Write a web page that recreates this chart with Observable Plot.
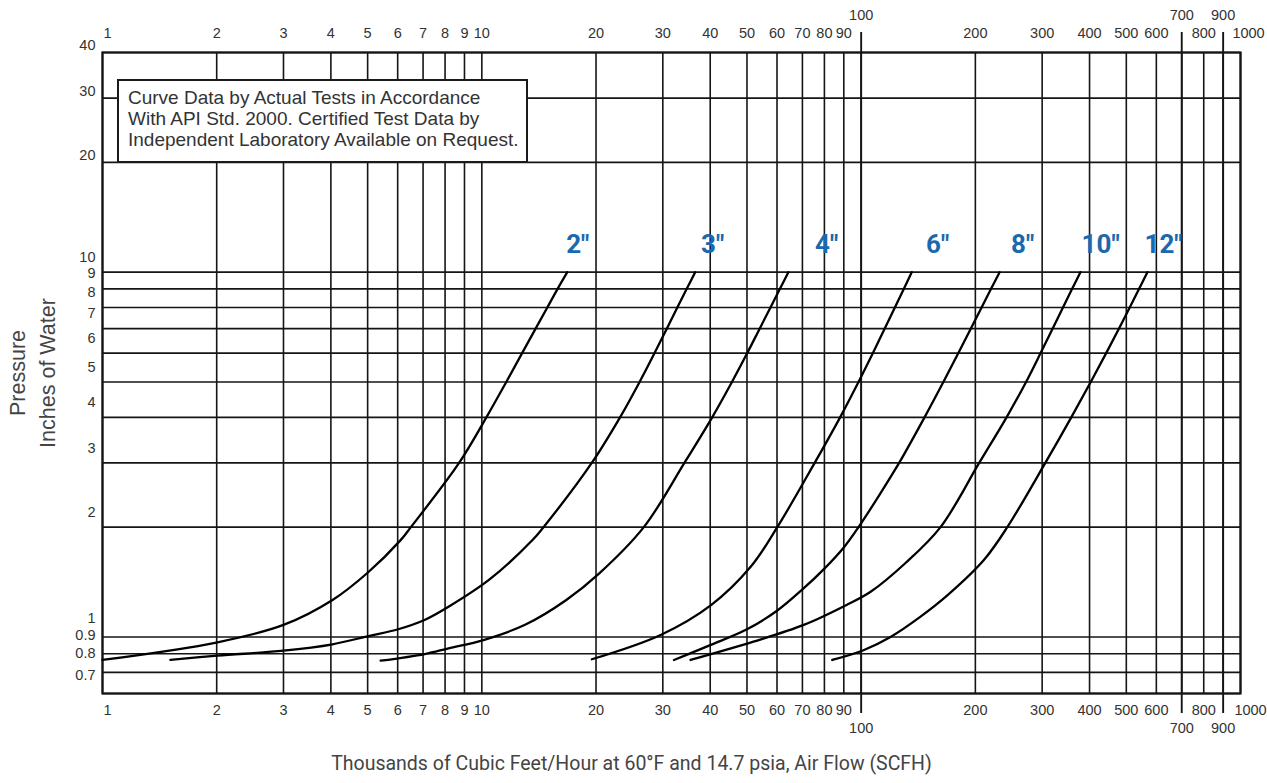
<!DOCTYPE html>
<html>
<head>
<meta charset="utf-8">
<script src="https://cdn.jsdelivr.net/npm/d3@7"></script>
<script src="https://cdn.jsdelivr.net/npm/@observablehq/plot@0.6"></script>
<style>
  html, body { margin: 0; padding: 0; background: #fff; }
  #wrap { position: relative; width: 1267px; height: 783px; overflow: hidden; }
  #note {
    position: absolute; left: 117px; top: 79px; width: 411px; height: 84px;
    box-sizing: border-box; border: 2.5px solid #1a1a1a; background: #fff;
    font-family: "Liberation Sans", Arial, sans-serif; font-size: 19px; line-height: 21px;
    color: #333; padding: 6px 0 0 9px; white-space: nowrap;
  }
</style>
</head>
<body>
<div id="wrap">
  <div id="chart"></div>
  <div id="note">Curve Data by Actual Tests in Accordance<br>With API Std. 2000. Certified Test Data by<br>Independent Laboratory Available on Request.</div>
</div>
<script>
// ---- tick values ----
const xGrid = [1,2,3,4,5,6,7,8,9,10,20,30,40,50,60,70,80,90,100,200,300,400,500,600,700,800,900,1000];
const xLong = [100, 700, 900];               // grid lines running past the frame; labels offset outward
const xLabels = [2,3,4,5,6,7,8,9,10,20,30,40,50,60,70,80,90,200,300,400,500,600,800];
const xFirst = [1];
const xLast = [1000];
const yGrid = [0.7,0.8,0.9,1,2,3,4,5,6,7,8,9,10,20,30,40];
const yLabelsLow = [0.7,0.8,0.9,1];
const yLabelsMid = [2,3,4,5,6,7,8,9,10];
const yLabelsHigh = [20,30,40];

// ---- curves: [flow (thousand SCFH), pressure (in. W.C.)] ----
const s2  = [[1.0,0.865],[2.01,0.967],[3.0,1.079],[4.04,1.263],[5.0,1.5],[6.1,1.84],[6.5,2],[8.71,3],[10.28,4],[11.6,5],[12.77,6],[13.86,7],[14.88,8],[15.84,9],[16.8,10]];
const s3  = [[1.51,0.865],[2.01,0.889],[3.0,0.917],[4.04,0.955],[5.03,1.006],[6.02,1.05],[7.06,1.113],[8.17,1.21],[10.5,1.44],[13.6,1.844],[14.54,2],[19.49,3],[23.14,4],[26.05,5],[28.53,6],[30.73,7],[32.76,8],[34.69,9],[36.51,10]];
const s4  = [[5.41,0.861],[7.07,0.898],[8.17,0.931],[10.1,0.981],[13.0,1.08],[16.7,1.263],[20.4,1.494],[26.73,2],[34.2,3],[40.48,4],[45.64,5],[50.08,6],[54.0,7],[57.67,8],[61.08,9],[64.28,10]];
const s6  = [[19.5,0.869],[29.6,1.013],[40.2,1.223],[51.2,1.56],[60.1,2],[75.4,3],[88.0,4],[98.4,5],[107.4,6],[115.3,7],[122.7,8],[129.6,9],[135.9,10]];
const s8  = [[32.1,0.865],[40,0.95],[50,1.05],[60,1.18],[70,1.35],[80,1.54],[90,1.76],[98.4,2],[112.5,2.48],[125.9,3],[146.9,4],[164.7,5],[180.4,6],[194.5,7],[207.7,8],[220.0,9],[231.7,10]];
const s10 = [[35.5,0.865],[52,0.971],[70.6,1.079],[91.5,1.224],[105.9,1.33],[130.9,1.595],[161.9,2],[204.7,3],[241.7,4],[272.1,5],[297.2,6],[319.6,7],[340.4,8],[359.9,9],[378.4,10]];
const s12 = [[83.9,0.865],[101.4,0.92],[119.5,1.0],[143.4,1.137],[168.7,1.30],[210.6,1.625],[242.8,2],[305.8,3],[358.0,4],[402.9,5],[442.5,6],[478.0,7],[510.5,8],[540.4,9],[568.2,10]];

const sizes = ['2"','3"','4"','6"','8"','10"','12"'];
const series = [s2, s3, s4, s6, s8, s10, s12];
const labelX = [17.9, 40.6, 81.1, 159, 266.5, 427.9, 627];
const labelY = [10, 10, 10, 10, 10, 10, 10];

const xTitle = "Thousands of Cubic Feet/Hour at 60°F and 14.7 psia, Air Flow (SCFH)";
const yTitle = "Pressure\nInches of Water";

// ---- tables built from the arrays ----
const curveRows = series.flatMap((pts, i) => pts.map(([x, y]) => ({size: sizes[i], x, y})));
const labelRows = sizes.map((s, i) => ({size: s, x: labelX[i], y: labelY[i]}));

const fmt = d => String(d);
const tickFont = "'Liberation Sans', Arial, sans-serif";
const tk = {text: fmt, fontSize: 14.5, fill: "#333", lineAnchor: "middle"};
const xt = (data, anchor, dy, dx = 0) => Plot.text(data, {...tk, x: d => d, frameAnchor: anchor, dy, dx});
const yt = (data, dy) => Plot.text(data, {...tk, y: d => d, frameAnchor: "left", textAnchor: "end", dx: -7, dy});

const chart = Plot.plot({
  width: 1267,
  height: 783,
  marginLeft: 102,
  marginRight: 27,
  marginTop: 52,
  marginBottom: 90,
  style: {fontFamily: tickFont, fontSize: "14px", background: "#fff", overflow: "visible"},
  x: {type: "log", domain: [1, 1000], axis: null},
  y: {type: "log", domain: [0.7, 40], axis: null},
  marks: [
    Plot.ruleX(xGrid, {stroke: "#151515", strokeWidth: 1.6}),
    Plot.ruleX(xLong, {stroke: "#151515", strokeWidth: 1.9, insetTop: -20, insetBottom: -20}),
    Plot.ruleY(yGrid, {stroke: "#151515", strokeWidth: 1.6}),
    Plot.frame({stroke: "#151515", strokeWidth: 2.2}),
    // top tick labels
    xt(xLabels, "top", -19),
    xt(xFirst, "top", -19, 5),
    xt(xLast, "top", -19, 8),
    xt(xLong, "top", -37),
    // bottom tick labels
    xt(xLabels, "bottom", 17),
    xt(xFirst, "bottom", 17, 5),
    xt(xLast, "bottom", 17, 10),
    xt(xLong, "bottom", 35),
    // y tick labels (printed just above their grid lines)
    yt(yLabelsLow, -18.5),
    yt(yLabelsMid, -15),
    yt(yLabelsHigh, -7),
    // curves
    Plot.line(curveRows, {x: "x", y: "y", z: "size", curve: "catmull-rom", stroke: "#000", strokeWidth: 2.3}),
    Plot.text(labelRows, {x: "x", y: "y", text: "size", dy: -27, fill: "#1a68ad", fontSize: 26, fontWeight: "bold", fontFamily: "'Liberation Sans Narrow', 'Roboto', sans-serif"}),
    // axis titles
    Plot.text([xTitle], {frameAnchor: "bottom", dy: 76, dx: -40, fontSize: 19.5, fill: "#444", fontFamily: "Roboto, sans-serif"}),
    Plot.text([yTitle], {frameAnchor: "left", textAnchor: "middle", dx: -72, rotate: -90, fontSize: 21.5, lineHeight: 1.38, fill: "#444", fontFamily: tickFont})
  ]
});
document.getElementById("chart").appendChild(chart);
</script>
</body>
</html>
